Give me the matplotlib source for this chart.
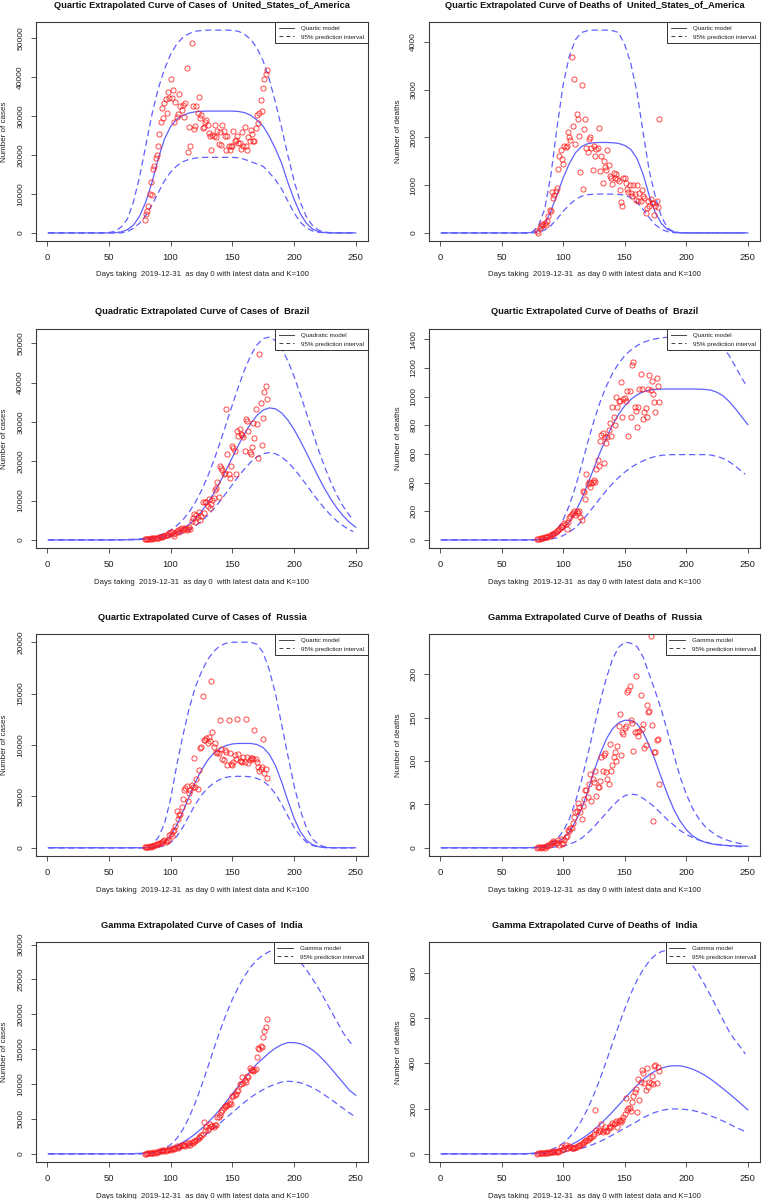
import matplotlib
matplotlib.use("Agg")
import matplotlib.pyplot as plt
from matplotlib.ticker import MultipleLocator, FuncFormatter

plt.rcParams['font.family'] = ['Liberation Sans', 'DejaVu Sans']

# ---------------- data ----------------
DAYS_OBS = list(range(79, 179))
FIT_DAYS = [1] + list(range(5, 251, 5))
BAND_DAYS = [1] + list(range(5, 246, 5)) + [248]
X_TICKS = [0, 50, 100, 150, 200, 250]

# United States - cases
US_CASES = [3400, 4900, 5500, 7000, 10100, 13200, 9800, 16500, 17100, 19200,
            19900, 22200, 25500, 28400, 32200, 29500, 33300, 34400, 30800, 36300,
            34600, 39600, 34600, 36700, 28500, 33600, 29700, 30500, 35700, 32500,
            31600, 32900, 29700, 33300, 42300, 20900, 27100, 22200, 48700, 32500,
            26700, 27500, 32500, 30800, 35000, 29500, 30300, 26900, 27100, 28400,
            29100, 27800, 25600, 24800, 21400, 25200, 25000, 27800, 24700, 26300,
            22900, 25800, 22700, 27800, 26200, 25000, 21200, 24800, 22400, 21400,
            22200, 22400, 26200, 23500, 23900, 24800, 23200, 23200, 21500, 25800,
            22200, 27200, 22200, 21200, 24600, 23500, 26500, 25500, 23500, 23600,
            26900, 30300, 28300, 30900, 34200, 31200, 37200, 39500, 40700, 41900]
US_CASES_FIT = [0, 0, 0, 0, 0, 0, 0, 0, 0, 0, 0,
                50, 250, 800, 2000, 4300, 8000, 13000, 19000, 24000,
                27300, 29200, 30200, 30800, 31100, 31250, 31300, 31300, 31300, 31300,
                31300, 31200, 30900, 30200, 29000, 27400, 24800, 21600, 17900, 13000,
                8700, 5000, 2500, 1000, 300, 80, 0, 0, 0, 0, 0]
US_CASES_UP = [0, 0, 0, 0, 0, 0, 0, 0, 0, 0, 100,
               400, 1500, 3500, 8000, 14500, 22500, 30500, 37000, 42000,
               45800, 48500, 50200, 51200, 51800, 52000, 52100, 52100, 52100, 52100,
               52000, 51800, 51000, 49700, 47500, 44200, 39500, 33500, 27000, 20000,
               13500, 8000, 4200, 1900, 700, 200, 50, 0, 0, 0, 0]
US_CASES_LO = [0, 0, 0, 0, 0, 0, 0, 0, 0, 0, 0, 0, 0,
               300, 1200, 2500, 4500, 7200, 10300, 13300,
               15600, 17200, 18300, 18900, 19200, 19400, 19400, 19400, 19400, 19400,
               19400, 19300, 18900, 18300, 17700, 17100, 15500, 13600, 11300, 8200,
               5200, 2800, 1300, 500, 150, 30, 0, 0, 0, 0, 0]

# United States - deaths
US_DEATHS = [50, 0, 100, 150, 180, 160, 200, 170, 240, 350,
             490, 460, 850, 740, 800, 880, 950, 1340, 1620, 1740,
             1540, 1440, 1820, 1800, 1830, 2115, 2000, 1940, 3680, 2250,
             3235, 1860, 2500, 2390, 2040, 1280, 3100, 910, 2180, 2385,
             1775, 1705, 1970, 2000, 1775, 1310, 1830, 1620, 1750, 1775,
             2190, 1290, 1620, 1040, 1500, 1380, 1315, 1730, 1425, 1190,
             1140, 1030, 1260, 1155, 1225, 1120, 1085, 900, 655, 565,
             1150, 1140, 1050, 930, 855, 995, 840, 770, 1000, 805,
             680, 1000, 660, 828, 675, 890, 765, 735, 417, 530,
             668, 563, 703, 620, 633, 368, 563, 668, 550, 2385]
US_DEATHS_FIT = [0, 0, 0, 0, 0, 0, 0, 0, 0, 0, 0, 0, 0, 0, 0,
                 10, 50, 180, 450, 800, 1150, 1450, 1680, 1810, 1870,
                 1890, 1895, 1895, 1890, 1875, 1835, 1750, 1560, 1230, 780,
                 420, 190, 70, 20, 5,
                 0, 0, 0, 0, 0, 0, 0, 0, 0, 0, 0]
US_DEATHS_UP = [0, 0, 0, 0, 0, 0, 0, 0, 0, 0, 0, 0, 0, 0, 0,
                20, 150, 500, 1200, 2200, 3100, 3700, 4050, 4200, 4240,
                4250, 4250, 4250, 4240, 4200, 3950, 3550, 2950, 2100, 1300,
                750, 330, 100, 25,
                0, 0, 0, 0, 0, 0, 0, 0, 0, 0, 0, 0]
US_DEATHS_LO = [0, 0, 0, 0, 0, 0, 0, 0, 0, 0, 0, 0, 0, 0, 0, 0,
                15, 60, 150, 290, 450, 590, 700, 770, 800, 812,
                814, 814, 812, 805, 790, 740, 640, 490, 320, 170,
                70, 25, 5,
                0, 0, 0, 0, 0, 0, 0, 0, 0, 0, 0, 0]

# Brazil - cases
BR_CASES = [200, 170, 250, 300, 350, 550, 340, 380, 450, 420,
            600, 500, 680, 700, 850, 1100, 1020, 1200, 1300, 1270,
            1700, 2030, 1900, 1500, 1020, 1860, 2200, 2600, 1950, 2700,
            3050, 2540, 2710, 2900, 2540, 2800, 3390, 2880, 4915, 5510,
            6700, 4660, 6440, 5760, 7030, 5085, 6100, 9580, 6950, 9660,
            9580, 8640, 10340, 8220, 9070, 10170, 10590, 12710, 13220, 14830,
            11020, 18900, 18220, 17800, 16700, 16950, 33300, 21860, 16780, 15680,
            18900, 23980, 23300, 22710, 16700, 27800, 26440, 28140, 26950, 26700,
            26270, 22540, 30760, 30340, 27710, 22460, 21780, 23730, 29660, 26000,
            33400, 29500, 20760, 47300, 34750, 24150, 30930, 37700, 39150, 35900]
BR_CASES_FIT = [0, 0, 0, 0, 0, 0, 0, 0, 0, 0, 0, 0,
                25, 44, 78, 132, 221, 358, 568, 879, 1326, 1953, 2805, 3930,
                5370, 7170, 9330, 11850, 14680, 17750, 20930, 24090, 27040, 29620,
                31660, 33010, 33580, 33340, 32290, 30510, 28120, 25290, 22200,
                19010, 15880, 12940, 10290, 7990, 6050, 4460, 3220]
BR_CASES_UP = [0, 0, 0, 0, 0, 0, 0, 0, 0, 0, 0, 0,
               53, 93, 160, 268, 440, 703, 1097, 1671, 2483, 3602, 5098, 7043,
               9500, 12500, 16060, 20130, 24640, 29410, 34280, 39000, 43290, 46910,
               49610, 51200, 51580, 50700, 48650, 45560, 41640, 37150, 32340,
               27480, 22790, 18450, 14570, 11230, 8450, 6210, 5100]
BR_CASES_LO = [0, 0, 0, 0, 0, 0, 0, 0, 0, 0, 0, 0,
               14, 26, 46, 80, 135, 223, 357, 557, 848, 1261, 1825, 2573,
               3541, 4746, 6203, 7904, 9817, 11886, 14030, 16140, 18100, 19790,
               21100, 21920, 22200, 21920, 21100, 19790, 18100, 16140, 14030,
               11886, 9817, 7904, 6203, 4746, 3541, 2573, 2100]

# Brazil - deaths
BR_DEATHS = [3, 5, 7, 10, 12, 15, 17, 19, 22, 25,
             30, 35, 38, 42, 48, 55, 60, 70, 74, 90,
             93, 105, 121, 110, 74, 128, 151, 167, 180, 186,
             200, 172, 205, 186, 200, 158, 140, 342, 333, 286,
             460, 388, 407, 367, 400, 407, 419, 407, 495, 558,
             519, 693, 735, 744, 540, 716, 679, 716, 767, 814,
             726, 925, 856, 802, 1000, 925, 967, 972, 1105, 856,
             981, 988, 972, 1042, 725, 1042, 856, 1221, 1244, 930,
             900, 790, 930, 1051, 1156, 1051, 842, 895, 919, 860,
             1051, 1149, 1047, 1112, 1019, 965, 895, 1130, 1074, 965]
BR_DEATHS_FIT = [0, 0, 0, 0, 0, 0, 0, 0, 0, 0, 0, 0, 0, 0, 0,
                 1, 3, 8, 20, 40, 75, 125, 195, 285, 390, 500, 610, 710, 800,
                 875, 935, 980, 1012, 1033, 1045, 1050, 1052, 1053, 1053, 1053,
                 1053, 1053, 1052, 1050, 1045, 1030, 1005, 965, 915, 860, 805]
BR_DEATHS_UP = [0, 0, 0, 0, 0, 0, 0, 0, 0, 0, 0, 0, 0, 0, 0, 0, 0,
                10, 30, 70, 140, 240, 370, 520, 680, 830, 960, 1070, 1160,
                1230, 1285, 1325, 1355, 1377, 1393, 1403, 1410, 1414, 1415,
                1415, 1415, 1415, 1414, 1412, 1405, 1385, 1345, 1285, 1210,
                1130, 1090]
BR_DEATHS_LO = [0, 0, 0, 0, 0, 0, 0, 0, 0, 0, 0, 0, 0, 0, 0, 0, 0, 0,
                5, 15, 30, 55, 85, 130, 180, 235, 290, 342, 392, 435, 472,
                505, 530, 552, 570, 582, 590, 594, 595, 595, 595, 595, 595,
                595, 592, 583, 568, 545, 515, 478, 458]

# Russia - cases
RU_CASES = [50, 70, 90, 100, 130, 100, 180, 200, 250, 290,
            390, 350, 460, 500, 590, 650, 720, 590, 640, 720,
            1210, 1310, 1100, 1640, 1770, 2100, 3540, 2790, 3180, 3280,
            3930, 4790, 5640, 5840, 5970, 4520, 5310, 5640, 6070, 5900,
            8690, 5900, 6720, 5740, 7540, 9670, 9840, 14720, 10490, 10490,
            10720, 10230, 10820, 10400, 16230, 11250, 9840, 10160, 9340, 9180,
            9180, 12390, 9570, 8590, 8520, 9510, 9340, 8100, 12390, 9180,
            8200, 8100, 8300, 9020, 8660, 12560, 9110, 8430, 8430, 8360,
            8850, 8360, 12520, 8850, 8260, 8520, 8690, 8720, 8590, 11480,
            8590, 8360, 7870, 7480, 7700, 7870, 10560, 7280, 7640, 6790]
RU_CASES_FIT = [0, 0, 0, 0, 0, 0, 0, 0, 0, 0, 0, 0, 0, 0, 0, 0, 0,
                50, 200, 550, 1200, 2200, 3500, 4950, 6350, 7550, 8500, 9200,
                9650, 9950, 10100, 10150, 10150, 10150, 10050, 9750, 9100, 8000,
                6400, 4600, 2900, 1600, 750, 300, 100, 25, 5, 0, 0, 0, 0]
RU_CASES_UP = [0, 0, 0, 0, 0, 0, 0, 0, 0, 0, 0, 0, 0, 0, 0, 0, 0,
               300, 1000, 2300, 4700, 8000, 10900, 13500, 15600, 17100, 18300,
               19100, 19650, 19900, 20000, 20000, 20000, 20000, 19800, 19000,
               17300, 15000, 12000, 9000, 6100, 3700, 1950, 850, 300, 90, 20,
               0, 0, 0, 0]
RU_CASES_LO = [0, 0, 0, 0, 0, 0, 0, 0, 0, 0, 0, 0, 0, 0, 0, 0, 0, 0,
               50, 200, 500, 1100, 2000, 3100, 4200, 5100, 5800, 6300, 6650,
               6850, 6950, 6950, 6950, 6900, 6750, 6500, 6000, 5250, 4250,
               3100, 2000, 1150, 550, 220, 70, 20, 0, 0, 0, 0, 0]

# Russia - deaths
RU_DEATHS = [0, 1, 1, 0, 1, 1, 0, 2, 2, 3,
             3, 5, 5, 8, 7, 6, 5, 9, 3, 10,
             4, 6, 9, 12, 14, 21, 19, 23, 23, 28,
             35, 41, 42, 52, 47, 41, 33, 48, 56, 67,
             67, 58, 74, 85, 54, 79, 76, 88, 60, 70,
             70, 77, 105, 88, 107, 109, 87, 79, 74, 120,
             89, 95, 105, 110, 100, 117, 140, 154, 107, 134,
             131, 138, 140, 180, 182, 186, 147, 144, 112, 133,
             198, 133, 129, 135, 176, 137, 143, 115, 119, 165,
             156, 158, 244, 142, 31, 110, 110, 124, 125, 73]
RU_DEATHS_FIT = [0, 0, 0, 0, 0, 0, 0, 0, 0, 0, 0, 0, 0, 0, 0,
                 0.3, 0.7, 1.5, 3, 6, 11, 18, 30, 45, 65, 88, 108, 125, 137,
                 144, 147, 147, 143, 133, 118, 100, 80, 61, 44, 31, 21, 14,
                 9.5, 6.5, 4.7, 3.5, 3, 2.5, 2.2, 2, 1.8]
RU_DEATHS_UP = [0, 0, 0, 0, 0, 0, 0, 0, 0, 0, 0, 0, 0, 0, 0, 0,
                1, 2.5, 5, 10, 19, 33, 53, 78, 107, 138, 168, 195, 217, 231,
                237, 236, 232, 220, 200, 180, 158, 133, 107, 82, 62, 46, 34,
                25, 19, 14, 10.5, 8, 6, 4.5, 3.8]
RU_DEATHS_LO = [0, 0, 0, 0, 0, 0, 0, 0, 0, 0, 0, 0, 0, 0, 0, 0, 0, 0,
                0.5, 1, 2, 4, 7, 11, 17, 24, 32, 40, 48, 55, 60, 62, 61, 57,
                52, 46, 39, 32, 26, 20, 15.5, 12, 9, 7, 5, 4, 3, 2.2, 1.6,
                1.2, 1]

# India - cases
IN_CASES = [20, 50, 70, 100, 140, 140, 190, 140, 240, 190,
            240, 290, 380, 380, 620, 480, 580, 480, 580, 580,
            720, 580, 720, 860, 720, 770, 1060, 860, 960, 1060,
            1200, 1200, 1300, 1060, 1540, 1340, 1540, 1300, 1680, 1580,
            1820, 1820, 1920, 2160, 2400, 2400, 2640, 2880, 4510, 3360,
            3840, 3460, 3740, 4320, 4030, 4030, 3840, 4080, 4130, 5280,
            5280, 5520, 6000, 6240, 6620, 6820, 6860, 7060, 7200, 7440,
            7200, 8260, 8260, 8500, 8640, 9020, 9220, 9980, 9980, 11040,
            10180, 10560, 10320, 11140, 11040, 12340, 12000, 12000, 11900, 12000,
            12100, 13920, 15220, 15020, 15460, 15360, 16700, 17660, 18140, 19340]
IN_CASES_FIT = [0, 0, 0, 0, 0, 0, 0, 0, 0, 0, 0, 0, 0,
                10, 30, 70, 140, 250, 400, 600, 850, 1200, 1650, 2200, 2850,
                3600, 4450, 5350, 6350, 7450, 8600, 9700, 10800, 11900, 12900,
                13700, 14500, 15150, 15650, 15950, 15950, 15800, 15450, 14900,
                14150, 13250, 12250, 11200, 10150, 9100, 8400]
IN_CASES_UP = [0, 0, 0, 0, 0, 0, 0, 0, 0, 0, 0, 0, 0, 0, 0, 0,
               100, 200, 400, 750, 1300, 2200, 3500, 5200, 7300, 9700, 12300,
               15000, 17600, 20000, 22100, 23900, 25500, 26800, 27800, 28500,
               29000, 29200, 29200, 28900, 28300, 27500, 26400, 25100, 23700,
               22100, 20500, 18900, 17300, 16100, 15500]
IN_CASES_LO = [0, 0, 0, 0, 0, 0, 0, 0, 0, 0, 0, 0, 0, 0, 0, 0,
               40, 80, 140, 230, 350, 550, 850, 1250, 1750, 2300, 2950, 3650,
               4400, 5150, 5900, 6650, 7400, 8100, 8700, 9200, 9650, 10000,
               10300, 10400, 10350, 10200, 9900, 9500, 9000, 8400, 7800, 7150,
               6500, 5850, 5500]

# India - deaths
IN_DEATHS = [1, 2, 3, 2, 4, 3, 5, 4, 6, 5,
             8, 6, 9, 7, 12, 10, 14, 7, 12, 29,
             15, 22, 32, 37, 25, 28, 35, 29, 25, 28,
             27, 32, 29, 34, 37, 40, 44, 47, 52, 59,
             62, 63, 68, 71, 74, 81, 88, 196, 106, 96,
             106, 103, 133, 95, 106, 118, 100, 103, 113, 125,
             118, 135, 130, 137, 147, 120, 144, 150, 140, 150,
             165, 177, 247, 194, 203, 203, 191, 231, 258, 272,
             287, 184, 329, 236, 317, 371, 358, 312, 284, 379,
             295, 317, 312, 346, 309, 390, 393, 312, 386, 368]
IN_DEATHS_FIT = [0, 0, 0, 0, 0, 0, 0, 0, 0, 0, 0, 0, 0,
                 0.5, 1, 2, 4, 7, 11, 17, 25, 36, 50, 66, 85, 106, 130, 157,
                 185, 215, 245, 275, 303, 329, 350, 367, 379, 387, 390, 389,
                 384, 375, 363, 348, 330, 310, 288, 266, 243, 219, 195]
IN_DEATHS_UP = [0, 0, 0, 0, 0, 0, 0, 0, 0, 0, 0, 0, 0, 0, 0,
                2, 5, 10, 18, 30, 47, 72, 105, 148, 200, 262, 332, 408, 487,
                565, 640, 708, 767, 815, 853, 880, 895, 901, 900, 890, 868,
                835, 795, 748, 698, 645, 592, 540, 500, 465, 442]
IN_DEATHS_LO = [0, 0, 0, 0, 0, 0, 0, 0, 0, 0, 0, 0, 0, 0, 0, 0,
                1, 2, 3, 5, 8, 12, 17, 24, 33, 43, 55, 68, 83, 98, 113, 128,
                143, 160, 173, 184, 192, 197, 199, 198, 196, 192, 186, 178,
                168, 157, 145, 132, 118, 106, 99]

XLAB = "Days taking  2019-12-31  as day 0 with latest data and K=100"
XLAB_BR = "Days taking  2019-12-31  as day 0  with latest data and K=100"

PANELS = [
    ("Quartic Extrapolated Curve of Cases of  United_States_of_America", "Number of cases",
     "Quartic model", "95% prediction interval", XLAB, US_CASES, US_CASES_FIT, US_CASES_UP, US_CASES_LO, 10000),
    ("Quartic Extrapolated Curve of Deaths of  United_States_of_America", "Number of deaths",
     "Quartic model", "95% prediction interval", XLAB, US_DEATHS, US_DEATHS_FIT, US_DEATHS_UP, US_DEATHS_LO, 1000),
    ("Quadratic Extrapolated Curve of Cases of  Brazil", "Number of cases",
     "Quadratic model", "95% prediction interval", XLAB_BR, BR_CASES, BR_CASES_FIT, BR_CASES_UP, BR_CASES_LO, 10000),
    ("Quartic Extrapolated Curve of Deaths of  Brazil", "Number of deaths",
     "Quartic model", "95% prediction interval", XLAB, BR_DEATHS, BR_DEATHS_FIT, BR_DEATHS_UP, BR_DEATHS_LO, 200),
    ("Quartic Extrapolated Curve of Cases of  Russia", "Number of cases",
     "Quartic model", "95% prediction interval", XLAB, RU_CASES, RU_CASES_FIT, RU_CASES_UP, RU_CASES_LO, 5000),
    ("Gamma Extrapolated Curve of Deaths of  Russia", "Number of deaths",
     "Gamma model", "95% prediction intervall", XLAB, RU_DEATHS, RU_DEATHS_FIT, RU_DEATHS_UP, RU_DEATHS_LO, 50),
    ("Gamma Extrapolated Curve of Cases of  India", "Number of cases",
     "Gamma model", "95% prediction intervall", XLAB, IN_CASES, IN_CASES_FIT, IN_CASES_UP, IN_CASES_LO, 5000),
    ("Gamma Extrapolated Curve of Deaths of  India", "Number of deaths",
     "Gamma model", "95% prediction intervall", XLAB, IN_DEATHS, IN_DEATHS_FIT, IN_DEATHS_UP, IN_DEATHS_LO, 200),
]

# ---------------- layout (pixels) ----------------
W, H = 762, 1199
COLS = [(36, 368), (429, 760)]
ROWS = [(22, 241), (329, 548), (634, 856), (942, 1162)]

fig = plt.figure(figsize=(W / 100, H / 100), dpi=100)
fig.patch.set_facecolor("white")

CURVE = "#6060ff"
EDGE = "#3a3a3a"
TXT = "#222222"

for i, (title, ylab, mlab, ilab, xlab, obs, fit, up, lo, ystep) in enumerate(PANELS):
    r, c = divmod(i, 2)
    l, rr = COLS[c]
    t, b = ROWS[r]
    ax = fig.add_axes([l / W, 1 - b / H, (rr - l) / W, (b - t) / H])

    ax.plot(FIT_DAYS, fit, color=CURVE, lw=0.9, label=mlab)
    ax.plot(BAND_DAYS, up, color=CURVE, lw=0.9, dashes=(5, 3), label=ilab)
    ax.plot(BAND_DAYS, lo, color=CURVE, lw=0.9, dashes=(5, 3))
    ax.plot(DAYS_OBS, obs, ls="none", marker="o", ms=3.7, mfc="none",
            mec=(1, 0.1, 0.1, 0.85), mew=0.65)

    allv = list(fit) + list(up) + list(lo)
    vmin, vmax = min(allv), max(allv)
    pad = 0.04 * (vmax - vmin)
    ax.set_ylim(vmin - pad, vmax + pad)
    ax.set_xlim(1 - 0.04 * 249, 250 + 0.04 * 249)

    ax.set_xticks(X_TICKS)
    ax.yaxis.set_major_locator(MultipleLocator(ystep))
    ax.yaxis.set_major_formatter(FuncFormatter(lambda v, p: "%d" % round(v)))

    for s in ax.spines.values():
        s.set_color(EDGE)
        s.set_linewidth(0.8)
    ax.tick_params(axis="both", direction="out", length=3.5, width=0.6, color=EDGE, labelcolor=TXT)
    ax.tick_params(axis="x", labelsize=6.8, pad=5.0)
    ax.tick_params(axis="y", labelsize=6.0, pad=5.0, labelrotation=90)
    for lab in ax.get_yticklabels():
        lab.set_va("center")

    leg_handles = [plt.Line2D([], [], color="#444444", lw=0.7),
                   plt.Line2D([], [], color="#444444", lw=0.7, dashes=(4, 3))]
    leg = ax.legend(leg_handles, [mlab, ilab], loc="upper right", borderaxespad=0,
                    fontsize=4.5, fancybox=False, framealpha=1, edgecolor="#333333",
                    handlelength=2.5, handletextpad=1.1, borderpad=0.6, labelspacing=0.5)
    leg.get_frame().set_linewidth(0.7)
    for txt in leg.get_texts():
        txt.set_color(TXT)

    cx = (l + rr) / 2
    fig.text(cx / W, 1 - (t - 17) / H, title, ha="center", va="center",
             fontsize=6.7, fontweight="bold", color="#111111")
    fig.text(cx / W, 1 - (b + 34) / H, xlab, ha="center", va="center",
             fontsize=5.6, color=TXT)
    fig.text((l - 31) / W, 1 - ((t + b) / 2) / H, ylab, ha="center", va="center",
             rotation=90, fontsize=5.8, color=TXT)

fig.savefig("out.png", dpi=100, facecolor="white")
